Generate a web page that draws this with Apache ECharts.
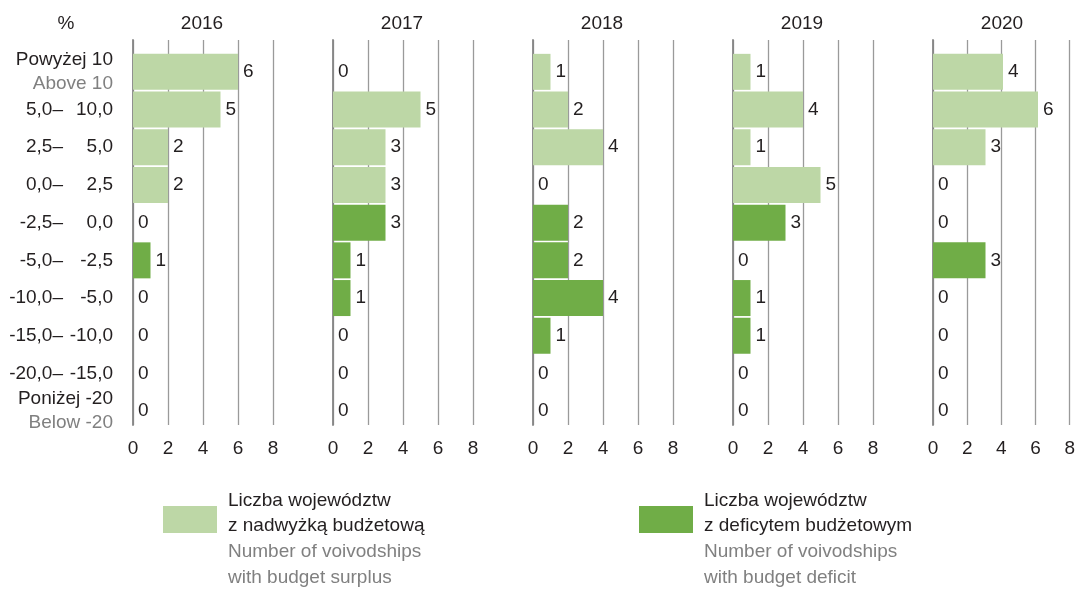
<!DOCTYPE html>
<html>
<head>
<meta charset="utf-8">
<script src="https://cdn.jsdelivr.net/npm/echarts@6/dist/echarts.min.js"></script>
<style>
  html, body { margin: 0; padding: 0; background: #fff; }
  #chart { width: 1078px; height: 589px; }
</style>
</head>
<body>
<div id="chart"></div>
<script>
// Budget result ranges (% of revenue), top to bottom
const categories = ['Powyżej 10', '5,0–10,0', '2,5–5,0', '0,0–2,5', '-2,5–0,0',
  '-5,0–-2,5', '-10,0–-5,0', '-15,0–-10,0', '-20,0–-15,0', 'Poniżej -20'];
const categoriesEn = ['Above 10', '', '', '', '', '', '', '', '', 'Below -20'];
// Number of ranges counted as surplus (the rest are deficit)
const surplusRows = 4;

const years = ['2016', '2017', '2018', '2019', '2020'];

// Number of voivodships in each range, per year
const v2016 = [6, 5, 2, 2, 0, 1, 0, 0, 0, 0];
const v2017 = [0, 5, 3, 3, 3, 1, 1, 0, 0, 0];
const v2018 = [1, 2, 4, 0, 2, 2, 4, 1, 0, 0];
const v2019 = [1, 4, 1, 5, 3, 0, 1, 1, 0, 0];
const v2020 = [4, 6, 3, 0, 0, 3, 0, 0, 0, 0];
const valuesByYear = [v2016, v2017, v2018, v2019, v2020];

const xTicks = [0, 2, 4, 6, 8];

const surplusColor = '#bdd7a6';
const deficitColor = '#70ad47';
const textColor = '#231f20';
const greyText = '#808080';
const lineColor = '#9a9a9a';
const FONT = 'Liberation Sans';
const FS = 19;

const legendSurplus = ['Liczba województw', 'z nadwyżką budżetową', 'Number of voivodships', 'with budget surplus'];
const legendDeficit = ['Liczba województw', 'z deficytem budżetowym', 'Number of voivodships', 'with budget deficit'];

const chart = echarts.init(document.getElementById('chart'), null, { renderer: 'canvas' });

const panelLeft0 = 133, panelStep = 200, panelWidth = 140;
const grids = [], xAxes = [], yAxes = [], series = [], titles = [];

function categoryLabel(value, idx) {
  const en = categoriesEn[idx];
  const dash = value.indexOf('–');
  if (dash < 0) {
    return '{main|' + value + '}\n{en|' + en + '}';
  }
  return '{lo|' + value.slice(0, dash + 1) + '}{hi|' + value.slice(dash + 1) + '}';
}

years.forEach((year, i) => {
  const left = panelLeft0 + panelStep * i;
  // grid for the vertical guide lines and tick labels
  grids.push({ left: left, top: 40, width: panelWidth, height: 385 });
  // grid holding the bars
  grids.push({ left: left, top: 53, width: panelWidth, height: 377 });

  const gLines = i * 2, gBars = i * 2 + 1;

  xAxes.push({
    gridIndex: gLines, type: 'value', min: xTicks[0], max: xTicks[xTicks.length - 1], interval: 2,
    axisLine: { show: false }, axisTick: { show: false },
    splitLine: { show: true, lineStyle: { color: lineColor, width: 1.3 } },
    axisLabel: { show: true, color: textColor, fontFamily: FONT, fontSize: FS, margin: 14 }
  });
  yAxes.push({
    gridIndex: gLines, type: 'category', data: categories, inverse: true,
    axisLine: { show: true, lineStyle: { color: '#858585', width: 1.8 } },
    axisTick: { show: false }, axisLabel: { show: false }, splitLine: { show: false }
  });

  xAxes.push({
    gridIndex: gBars, type: 'value', min: xTicks[0], max: xTicks[xTicks.length - 1], interval: 2,
    show: false, splitLine: { show: false }
  });
  yAxes.push({
    gridIndex: gBars, type: 'category', data: categories, inverse: true,
    axisLine: { show: false }, axisTick: { show: false }, splitLine: { show: false },
    axisLabel: i === 0 ? {
      show: true, margin: 20, align: 'right', formatter: categoryLabel,
      fontFamily: FONT, fontSize: FS, color: textColor,
      rich: {
        main: { fontFamily: FONT, fontSize: FS, color: textColor, lineHeight: 24, align: 'right' },
        en: { fontFamily: FONT, fontSize: FS, color: greyText, lineHeight: 24, align: 'right' },
        lo: { fontFamily: FONT, fontSize: FS, color: textColor, width: 62, align: 'right' },
        hi: { fontFamily: FONT, fontSize: FS, color: textColor, width: 50, align: 'right' }
      }
    } : { show: false }
  });

  series.push({
    type: 'bar', xAxisIndex: gBars, yAxisIndex: gBars,
    barWidth: 36,
    data: valuesByYear[i].map((v, k) => ({
      value: v,
      itemStyle: { color: k < surplusRows ? surplusColor : deficitColor }
    })),
    label: {
      show: true, position: 'right', distance: 5,
      fontFamily: FONT, fontSize: FS, color: textColor
    },
    silent: true, animation: false
  });

  titles.push({
    text: year, left: left + panelWidth / 2 - 1, top: 14, textAlign: 'center', padding: 0,
    textStyle: { fontFamily: FONT, fontSize: FS, fontWeight: 'normal', color: textColor }
  });
});

titles.push({
  text: '%', left: 66, top: 14, textAlign: 'center', padding: 0,
  textStyle: { fontFamily: FONT, fontSize: FS, fontWeight: 'normal', color: textColor }
});

function legendBlock(x, color, lines) {
  return [
    { type: 'rect', left: x, top: 506, shape: { width: 54, height: 27 }, style: { fill: color } },
    {
      type: 'text', left: x + 65, top: 491,
      style: {
        text: '{d|' + lines[0] + '}\n{d|' + lines[1] + '}\n{g|' + lines[2] + '}\n{g|' + lines[3] + '}',
        rich: {
          d: { fontFamily: FONT, fontSize: FS, lineHeight: 25.7, fill: textColor },
          g: { fontFamily: FONT, fontSize: FS, lineHeight: 25.7, fill: greyText }
        }
      }
    }
  ];
}

chart.setOption({
  animation: false,
  backgroundColor: '#ffffff',
  title: titles,
  grid: grids,
  xAxis: xAxes,
  yAxis: yAxes,
  series: series,
  graphic: legendBlock(163, surplusColor, legendSurplus).concat(legendBlock(639, deficitColor, legendDeficit))
});
</script>
</body>
</html>
